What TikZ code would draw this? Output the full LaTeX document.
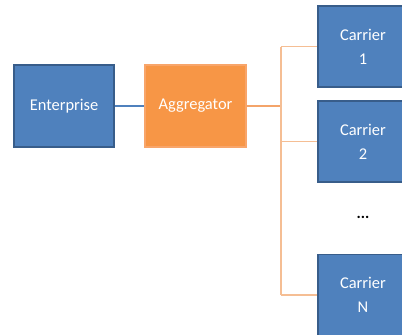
\documentclass[tikz,border=0pt]{standalone}
\usepackage{fontspec}
\setmainfont{Carlito}
\definecolor{bluefill}{HTML}{4F81BD}
\definecolor{blueedge}{HTML}{385D8A}
\definecolor{orangefill}{HTML}{F79646}
\definecolor{orangeedge}{HTML}{F8A56A}
\definecolor{orangeline}{HTML}{F4A46A}
\definecolor{buscol}{HTML}{F5BE94}
\begin{document}
\begin{tikzpicture}[x=1bp,y=-1bp,
  bluebox/.style={draw=blueedge,fill=bluefill,line width=1.5bp,text=white,
    minimum width=100bp,minimum height=82bp,inner sep=0pt,align=center,
    font=\fontsize{16.5}{20}\selectfont},
  orangebox/.style={bluebox,draw=orangeedge,fill=orangefill,minimum width=101bp},
  carrierbox/.style={bluebox,minimum width=90bp,minimum height=81bp,
    font=\fontsize{16.5}{24}\selectfont},
  busline/.style={draw=buscol,line width=1.8bp},
]
\useasboundingbox (0,0) rectangle (402,335);
\fill[white] (0,0) rectangle (402,335);
\node[bluebox] (ent) at (64,106) {Enterprise};
\node[orangebox] (agg) at (195.5,106) {Aggregator};
\node[carrierbox] (c1) at (363,46.5) {Carrier\\1};
\node[carrierbox] (c2) at (363,141.5) {Carrier\\2};
\node[carrierbox] (cn) at (363,295) {Carrier\\N};
\node[font=\fontsize{16}{18}\selectfont\bfseries] (dots) at (363,217) {...};
\coordinate (bus) at (281,106);
\coordinate (b1) at (281,46.5);
\coordinate (b2) at (281,141.5);
\coordinate (bn) at (281,295);
\draw[draw=bluefill,line width=2.2bp] (ent.east) -- (agg.west);
\draw[draw=orangeline,line width=2.4bp] (agg.east) -- (bus);
\draw[busline] (b1) -- (bn);
\draw[busline] (b1) -- (c1.west);
\draw[busline] (b2) -- (c2.west);
\draw[busline] (bn) -- (cn.west);
\end{tikzpicture}
\end{document}
